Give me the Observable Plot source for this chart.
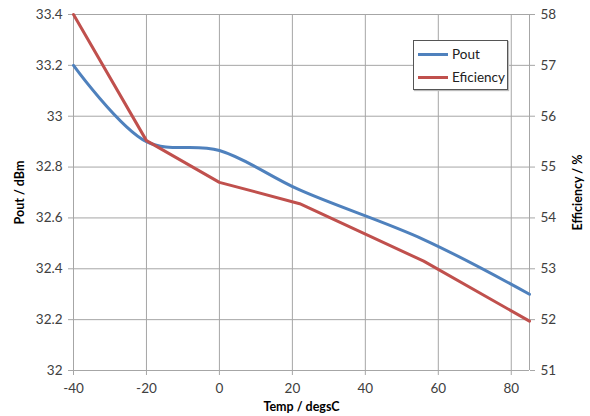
<!DOCTYPE html>
<html>
<head>
<meta charset="utf-8">
<script src="https://cdn.jsdelivr.net/npm/d3@7"></script>
<script src="https://cdn.jsdelivr.net/npm/@observablehq/plot@0.6"></script>
<style>
  body { margin: 0; background: #fff; }
  #wrap { position: relative; width: 590px; height: 416px; font-family: Lato, "Open Sans", sans-serif; }
  #wrap svg g[aria-label$="axis label"] text { font-weight: bold; fill: #000; font-size: 12.5px; }
  #legend { position: absolute; left: 413px; top: 40px; width: 93px; height: 48px; border: 1px solid #555; background: #fff; box-shadow: 1px 1px 1px #bbb; font-size: 13.5px; color: #222; }
  .item { position: absolute; left: 4px; display: flex; align-items: center; }
  .sw { width: 30px; height: 3px; margin-right: 4px; }
</style>
</head>
<body>
<div id="wrap"></div>
<script>
const temps = [-40, -20, 0, 22, 56, 85];
const pout = [33.2, 32.9, 32.865, 32.71, 32.515, 32.3];
const efficiency = [58, 55.52, 54.7, 54.28, 53.15, 51.97];
const xTicks = [-40, -20, 0, 20, 40, 60, 80];
const poutTicks = [32, 32.2, 32.4, 32.6, 32.8, 33, 33.2, 33.4];
const effTicks = [51, 52, 53, 54, 55, 56, 57, 58];
const seriesNames = ["Pout", "Eficiency"];
const colors = ["#4F81BD", "#C0504D"];

// map efficiency (right axis 51..58) onto the Pout scale (32..33.4)
const toP = e => 32 + (e - 51) * 0.2;
const fromP = p => Math.round((p - 32) / 0.2 + 51);

const poutData = temps.map((t, i) => ({t, v: pout[i]}));
const effData = temps.map((t, i) => ({t, v: toP(efficiency[i])}));

const gridColor = "#a6a6a6";
const chart = Plot.plot({
  width: 590, height: 416,
  marginLeft: 73, marginRight: 61, marginTop: 14, marginBottom: 46,
  style: {fontFamily: "Lato, 'Open Sans', sans-serif", fontSize: "13.5px", color: "#404040", background: "#fff"},
  x: {domain: [-40, 85]},
  y: {domain: [32, 33.4]},
  marks: [
    Plot.gridX(xTicks, {stroke: gridColor, strokeOpacity: 1}),
    Plot.gridY(poutTicks, {stroke: gridColor, strokeOpacity: 1}),
    Plot.ruleX([-40, 85], {stroke: gridColor, strokeOpacity: 1}),
    Plot.ruleY([32], {stroke: gridColor, strokeOpacity: 1}),
    Plot.axisX(xTicks, {tickSize: 5, tickPadding: 8, stroke: gridColor, tickFormat: d => String(d), label: "Temp / degsC", labelAnchor: "center", labelArrow: "none", labelOffset: 40}),
    Plot.axisY(poutTicks, {anchor: "left", tickSize: 5, tickPadding: 6, stroke: gridColor, tickFormat: d => String(+d.toFixed(1)), label: "Pout / dBm", labelAnchor: "center", labelArrow: "none", labelOffset: 58}),
    Plot.axisY(effTicks.map(toP), {anchor: "right", tickSize: 5, tickPadding: 6, stroke: gridColor, tickFormat: fromP, label: "Efficiency / %", labelAnchor: "center", labelArrow: "none", labelOffset: 52}),
    Plot.line(poutData, {x: "t", y: "v", stroke: colors[0], strokeWidth: 3, curve: "catmull-rom"}),
    Plot.line(effData, {x: "t", y: "v", stroke: colors[1], strokeWidth: 3, curve: "linear", strokeLinejoin: "round"})
  ]
});
const wrap = document.getElementById("wrap");
wrap.appendChild(chart);

const legend = document.createElement("div");
legend.id = "legend";
seriesNames.forEach((name, i) => {
  const item = document.createElement("div");
  item.className = "item";
  item.style.top = (i === 0 ? 5 : 28) + "px";
  const sw = document.createElement("span");
  sw.className = "sw";
  sw.style.background = colors[i];
  const label = document.createElement("span");
  label.textContent = name;
  item.appendChild(sw);
  item.appendChild(label);
  legend.appendChild(item);
});
wrap.appendChild(legend);
</script>
</body>
</html>
